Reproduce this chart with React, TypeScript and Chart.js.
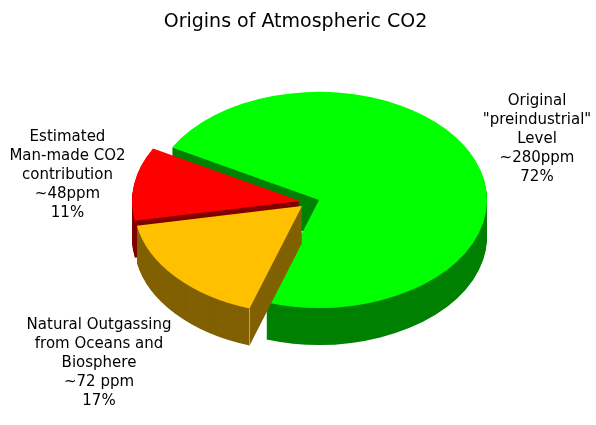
import React, { useEffect, useRef } from "react";
import { Chart, registerables } from "chart.js";

Chart.register(...registerables);

const categories = ["Original preindustrial Level", "Natural Outgassing", "Estimated Man-made CO2"];
const shares = [72, 17, 11];
const topColors = ["#00FF00", "#FFC000", "#FF0000"];
const wallColors = ["#008000", "#806000", "#800000"];
const paintOrder = [0, 2, 1];
const titleText = "Origins of Atmospheric CO2";
const sliceLabels = [
  ["Original", "\"preindustrial\"", "Level", "~280ppm", "72%"],
  ["Natural Outgassing", "from Oceans and", "Biosphere", "~72 ppm", "17%"],
  ["Estimated", "Man-made CO2", "contribution", "~48ppm", "11%"],
];
const labelAnchors = [
  [537, 101],
  [99, 325],
  [67.5, 137],
];
const sliceShift = [
  [0, 0],
  [-17, 6],
  [-19, 1],
];
const TILT = 0.643;
const DEPTH = 37;
const LINE = 19;
const PIE_SHIFT = 23.5;

const pie3d = {
  id: "pie3d",
  beforeDatasetsDraw(chart: any) {
    const ctx = chart.ctx;
    const arcs = chart.getDatasetMeta(0).data;
    const cy = (chart.chartArea.top + chart.chartArea.bottom) / 2;
    const project = (i: number, d: number) => {
      ctx.translate(PIE_SHIFT + sliceShift[i][0], cy + d + sliceShift[i][1]);
      ctx.scale(1, TILT);
      ctx.translate(0, -cy);
    };
    paintOrder.forEach((i) => {
      const arc = arcs[i];
      const base = arc.options;
      arc.options = { ...base, backgroundColor: wallColors[i] };
      for (let d = DEPTH; d >= 1; d--) {
        ctx.save();
        project(i, d);
        arc.draw(ctx);
        ctx.restore();
      }
      arc.options = base;
      ctx.save();
      project(i, 0);
      arc.draw(ctx);
      ctx.restore();
    });
    // light seam on the front corner of the exploded orange wedge
    const o = arcs[1];
    const sx = o.x + Math.cos(o.startAngle) * o.outerRadius + PIE_SHIFT + sliceShift[1][0];
    const sy = cy + Math.sin(o.startAngle) * o.outerRadius * TILT + sliceShift[1][1];
    ctx.save();
    ctx.strokeStyle = "#B8A878";
    ctx.lineWidth = 1;
    ctx.beginPath();
    ctx.moveTo(sx, sy);
    ctx.lineTo(sx, sy + DEPTH);
    ctx.stroke();
    ctx.restore();
    return false;
  },
  afterDraw(chart: any) {
    const ctx = chart.ctx;
    ctx.save();
    ctx.fillStyle = "#000";
    ctx.font = "15px 'DejaVu Sans'";
    ctx.textAlign = "center";
    ctx.textBaseline = "middle";
    sliceLabels.forEach((lines, i) => {
      lines.forEach((t, j) => {
        ctx.fillText(t, labelAnchors[i][0], labelAnchors[i][1] + j * LINE);
      });
    });
    ctx.restore();
  },
};

export default function App() {
  const ref = useRef<HTMLCanvasElement>(null);
  useEffect(() => {
    document.body.style.margin = "0";
    const chart = new Chart(ref.current!, {
      type: "pie",
      plugins: [pie3d],
      data: {
        labels: categories,
        datasets: [
          {
            data: shares,
            backgroundColor: topColors,
            borderWidth: 0,
          },
        ],
      },
      options: {
        responsive: false,
        animation: false,
        rotation: 299,
        radius: 168,
        layout: { padding: { left: 0, right: 5, top: 0, bottom: 59 } },
        plugins: {
          legend: { display: false },
          tooltip: { enabled: false },
          title: {
            display: true,
            text: titleText,
            color: "#000",
            font: { family: "'DejaVu Sans'", size: 19, weight: "normal" },
            padding: { top: 11, bottom: 0 },
          },
        },
      },
    } as any);
    return () => chart.destroy();
  }, []);
  return <canvas ref={ref} width={596} height={425} style={{ display: "block" }} />;
}
